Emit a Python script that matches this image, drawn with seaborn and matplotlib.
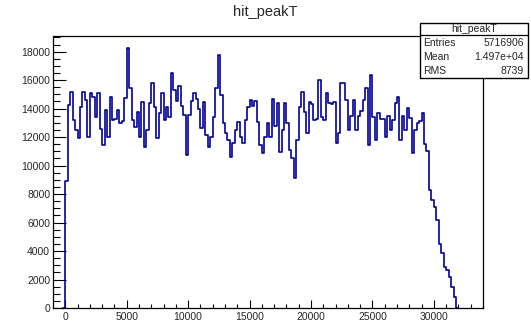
import numpy as np
import pandas as pd
import seaborn as sns
import matplotlib.pyplot as plt
from matplotlib.patches import Rectangle
from matplotlib.ticker import MultipleLocator

# hit_peakT histogram, 200-wide bins starting at 0
bin_width = 200
counts = [
    8900, 14260, 15190, 13200, 12500, 11920, 14100, 15190, 14600, 12040,
    15100, 14800, 13400, 15100, 12600, 11450, 13900, 12040, 14850, 13200,
    13300, 13900, 12970, 13100, 14730, 18240, 15430, 13200, 12700, 13790,
    12040, 14490, 11330, 12500, 14380, 15780, 14140, 11920, 13680, 15080,
    13200, 14140, 13440, 16480, 15310, 14500, 15600, 14200, 13560, 10750,
    13560, 14500, 15080, 14700, 14000, 12620, 14490, 12150, 11330, 12040,
    13440, 15430, 17770, 14960, 13000, 12270, 11800, 10630, 11570, 12500,
    13090, 12040, 11570, 13200, 14140, 14600, 14200, 14500, 13090, 11450,
    10870, 12040, 12970, 12040, 14700, 12800, 14380, 10980, 12500, 14400,
    13000, 11100, 10500, 9110, 11800, 14140, 15190, 13790, 12270, 14490,
    14300, 13200, 13300, 16000, 13440, 13200, 15080, 14380, 14300, 14490,
    11570, 12270, 15780, 15780, 14610, 12500, 13500, 14610, 12500, 13500,
    13800, 14610, 15430, 11450, 16360, 13440, 11800, 13680, 13300, 13300,
    12040, 13500, 12500, 13200, 14380, 14840, 11800, 13500, 12500, 14030,
    13320, 10870, 12500, 13000, 13100, 13670, 11500, 11000, 8300, 7600,
    7120, 6200, 4500, 3850, 2900, 2680, 2200, 1500, 800,
]

stats_title = "hit_peakT"
stats_names = ["Entries", "Mean", "RMS"]
stats_values = ["5716906", "1.497e+04", "8739"]

# pad with an empty bin on each side so the step drops to zero
padded = [0] + counts + [0]
edges = [(i - 1) * bin_width for i in range(len(padded) + 1)]
df = pd.DataFrame({"t": [e + bin_width / 2 for e in edges[:-1]], "n": padded})

sns.set_style("white")
plt.rcParams["font.family"] = ["Liberation Sans", "DejaVu Sans"]

fig = plt.figure(figsize=(5.31, 3.21), dpi=100)
ax = fig.add_axes([0.0998, 0.0405, 0.8098, 0.8474])

sns.histplot(
    data=df,
    x="t",
    weights="n",
    bins=edges,
    element="step",
    fill=False,
    color="#000099",
    alpha=1,
    linewidth=1.2,
    ax=ax,
)

ax.set_xlim(-1000, 34000)
ax.set_ylim(0, 19100)
ax.set_xlabel("")
ax.set_ylabel("")

ax.xaxis.set_major_locator(MultipleLocator(5000))
ax.xaxis.set_minor_locator(MultipleLocator(1000))
ax.yaxis.set_major_locator(MultipleLocator(2000))
ax.yaxis.set_minor_locator(MultipleLocator(500))
ax.tick_params(axis="both", which="both", direction="in", top=False, right=False,
               labelsize=7.5, color="black", width=0.8)
ax.tick_params(axis="x", which="major", length=6, pad=3)
ax.tick_params(axis="x", which="minor", length=3)
ax.tick_params(axis="y", which="major", length=9.5, pad=2)
ax.tick_params(axis="y", which="minor", length=4.7)
ax.tick_params(axis="both", which="both", bottom=True, left=True)
for s in ax.spines.values():
    s.set_color("black")
    s.set_linewidth(0.9)

fig.text(265 / 531, 1 - 12 / 321, "hit_peakT", ha="center", va="center", fontsize=10.5)

# stats box in the top-right corner
bx0, bx1 = 420 / 531, 528 / 531
by_top, by_bot = 1 - 23 / 321, 1 - 78 / 321
fig.patches.append(Rectangle((bx0, by_bot), bx1 - bx0, by_top - by_bot,
                             transform=fig.transFigure, facecolor="white",
                             edgecolor="black", linewidth=1.0, zorder=5))
fig.add_artist(plt.Line2D([bx0, bx1], [1 - 35 / 321] * 2, transform=fig.transFigure,
                          color="black", linewidth=0.9, zorder=6))
fig.text((bx0 + bx1) / 2, 1 - 29 / 321, stats_title, ha="center", va="center",
         fontsize=7.5, zorder=7)
for i, (name, val) in enumerate(zip(stats_names, stats_values)):
    yy = 1 - (43 + 14 * i) / 321
    fig.text(bx0 + 3 / 531, yy, name, ha="left", va="center", fontsize=7.5, zorder=7)
    fig.text(bx1 - 4 / 531, yy, val, ha="right", va="center", fontsize=7.5, zorder=7)

plt.savefig("out.png", dpi=100)
